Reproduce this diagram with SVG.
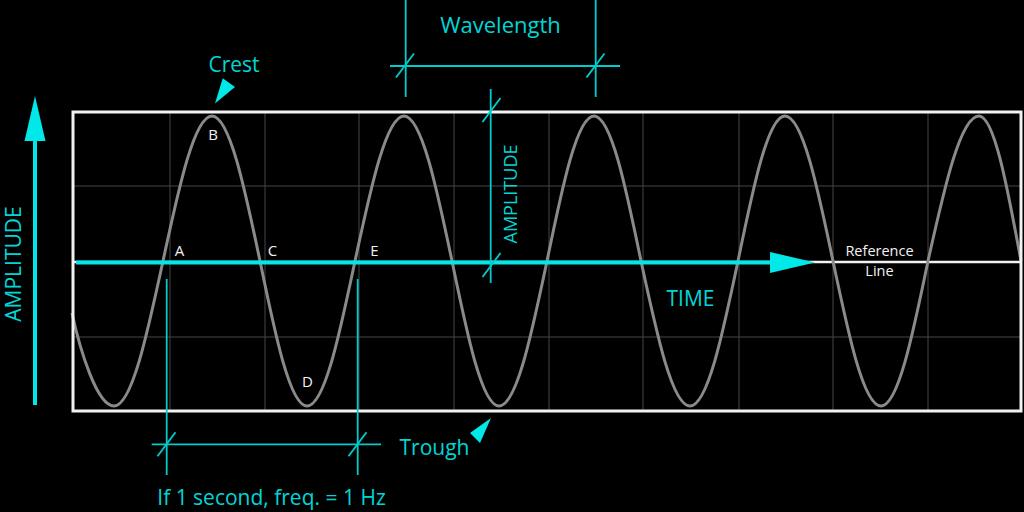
<svg xmlns="http://www.w3.org/2000/svg" width="1024" height="512" viewBox="0 0 1024 512">
  <style>
    .grid { stroke: #474747; stroke-width: 1; fill: none; }
    .dim { stroke: #00cccc; stroke-width: 1.8; fill: none; }
    .cy { fill: #00d6d6; font-family: "Open Sans", "Noto Sans", sans-serif; }
    .wh { fill: #f2f2f2; font-family: "Open Sans", "Noto Sans", sans-serif; }
    .arrow { fill: #00e8e8; }
  </style>
  <rect x="0" y="0" width="1024" height="512" fill="#000"/>

  <g id="grid">
    <line class="grid" x1="170" y1="112" x2="170" y2="411"/>
    <line class="grid" x1="265" y1="112" x2="265" y2="411"/>
    <line class="grid" x1="359" y1="112" x2="359" y2="411"/>
    <line class="grid" x1="454" y1="112" x2="454" y2="411"/>
    <line class="grid" x1="549" y1="112" x2="549" y2="411"/>
    <line class="grid" x1="643" y1="112" x2="643" y2="411"/>
    <line class="grid" x1="739" y1="112" x2="739" y2="411"/>
    <line class="grid" x1="833" y1="112" x2="833" y2="411"/>
    <line class="grid" x1="928" y1="112" x2="928" y2="411"/>
    <line class="grid" x1="73" y1="186" x2="1021" y2="186"/>
    <line class="grid" x1="73" y1="337" x2="1021" y2="337"/>
  </g>

  <g id="reference-line">
    <line x1="73" y1="262" x2="1021" y2="262" stroke="#f2f2f2" stroke-width="2.5"/>
  </g>

  <g id="wave">
    <path d="M 72 313 C 80 350, 97 406, 114 406
             C 131.7 406, 147 335.3, 163 261
             C 179 186.7, 194.3 116, 212 116
             C 229.4 116, 244.4 186.7, 260 261
             C 275.3 335.3, 290 406, 307 406
             C 324.4 406, 339.4 335.3, 355 261
             C 371 186.7, 386.3 116, 404 116
             C 421.4 116, 436.4 186.7, 452 261
             C 467.3 335.3, 482 406, 499 406
             C 516.4 406, 531.4 335.3, 547 261
             C 562.3 186.7, 577 116, 594 116
             C 611 116, 625.7 186.7, 641 261
             C 657 335.3, 672.3 406, 690 406
             C 707.4 406, 722.4 335.3, 738 261
             C 753.3 186.7, 768 116, 785 116
             C 802.4 116, 817.4 186.7, 833 261
             C 848.6 335.3, 863.6 406, 881 406
             C 898 406, 912.7 335.3, 928 261
             C 944.6 186.7, 960.5 116, 979 116
             C 994.2 116, 1007.3 186.7, 1021 261"
          fill="none" stroke="#8a8a8a" stroke-width="3"/>
  </g>

  <g id="frame">
    <rect x="73" y="112" width="948" height="299" fill="none" stroke="#f2f2f2" stroke-width="3"/>
  </g>

  <g id="time-arrow">
    <line x1="76" y1="262.5" x2="772" y2="262.5" stroke="#00e8e8" stroke-width="4"/>
    <polygon class="arrow" points="770,252 815,262.5 770,273"/>
    <text class="cy" x="690.5" y="305.5" font-size="21" text-anchor="middle">TIME</text>
  </g>

  <g id="amplitude-arrow">
    <line x1="35" y1="405" x2="35" y2="138" stroke="#00e8e8" stroke-width="4"/>
    <polygon class="arrow" points="35,96 45.5,141 24.5,141"/>
    <text class="cy" transform="translate(20.5,264) rotate(-90)" font-size="21" text-anchor="middle">AMPLITUDE</text>
  </g>

  <g id="connectors">
    <line class="dim" x1="405.7" y1="0" x2="405.7" y2="97"/>
    <line class="dim" x1="595.7" y1="0" x2="595.7" y2="97"/>
    <line class="dim" x1="390" y1="66" x2="620" y2="66"/>
    <line class="dim" x1="396" y1="77.5" x2="414" y2="53.5"/>
    <line class="dim" x1="586.5" y1="77.5" x2="604.5" y2="53.5"/>
    <line class="dim" x1="490.7" y1="89" x2="490.7" y2="283"/>
    <line class="dim" x1="482.5" y1="122" x2="500.5" y2="98"/>
    <line class="dim" x1="482.5" y1="277" x2="500.5" y2="253"/>
    <line class="dim" x1="166.7" y1="279" x2="166.7" y2="475"/>
    <line class="dim" x1="357.7" y1="279" x2="357.7" y2="475"/>
    <line class="dim" x1="151.7" y1="444.3" x2="381" y2="444.3"/>
    <line class="dim" x1="157.5" y1="456.3" x2="175.5" y2="432.3"/>
    <line class="dim" x1="348.5" y1="456.3" x2="366.5" y2="432.3"/>
  </g>

  <g id="wavelength-label">
    <text class="cy" x="500.5" y="33" font-size="22" text-anchor="middle">Wavelength</text>
  </g>
  <g id="amplitude-label">
    <text class="cy" transform="translate(517,194) rotate(-90)" font-size="18" text-anchor="middle">AMPLITUDE</text>
  </g>
  <g id="crest">
    <text class="cy" x="234" y="71.5" font-size="21" text-anchor="middle">Crest</text>
    <polygon class="arrow" points="215,103.5 222.7,78.3 235,87"/>
  </g>
  <g id="trough">
    <text class="cy" x="434.5" y="455" font-size="21" text-anchor="middle">Trough</text>
    <polygon class="arrow" points="491,418 470,433 480,443"/>
  </g>
  <g id="frequency-label">
    <text class="cy" x="271.5" y="505" font-size="21" text-anchor="middle">If 1 second, freq. = 1 Hz</text>
  </g>

  <g id="points">
    <text class="wh" x="179.5" y="256" font-size="15" text-anchor="middle">A</text>
    <text class="wh" x="213" y="139.5" font-size="15" text-anchor="middle">B</text>
    <text class="wh" x="272.5" y="256" font-size="15" text-anchor="middle">C</text>
    <text class="wh" x="307.5" y="387" font-size="15" text-anchor="middle">D</text>
    <text class="wh" x="374.5" y="256" font-size="15" text-anchor="middle">E</text>
  </g>

  <g id="reference-label">
    <text class="wh" x="879.5" y="256" font-size="14.5" text-anchor="middle">Reference</text>
    <text class="wh" x="879.5" y="275.5" font-size="14.5" text-anchor="middle">Line</text>
  </g>
</svg>
